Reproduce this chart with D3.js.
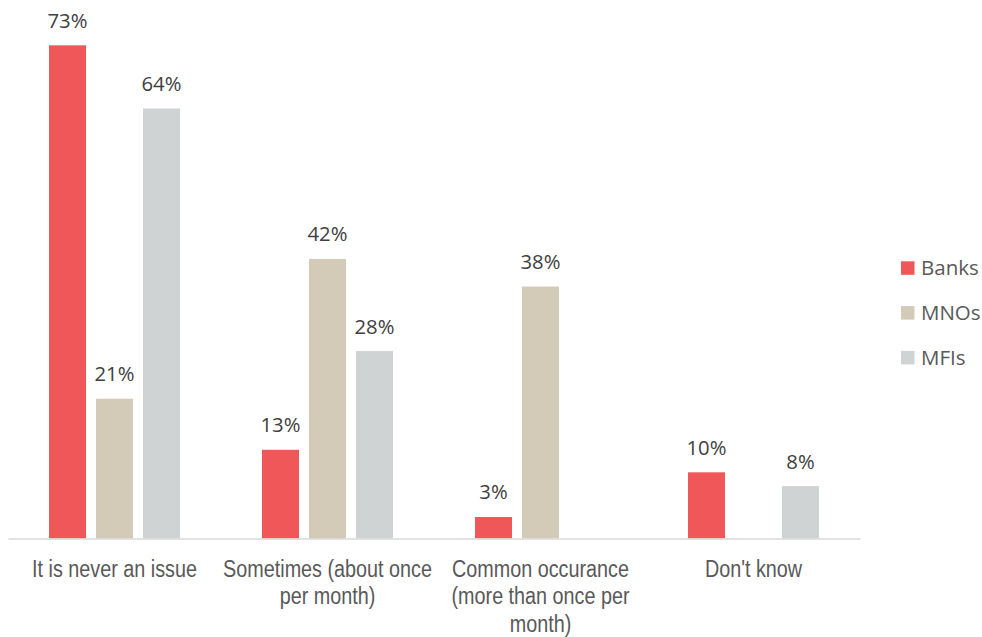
<!DOCTYPE html>
<html>
<head>
<meta charset="utf-8">
<script src="https://cdn.jsdelivr.net/npm/d3@7"></script>
<style>
  body { margin: 0; background: #fff; }
  .xlab { font-family: "Liberation Sans", Arial, sans-serif; font-size: 23px; fill: #595959; }
  .val { font-family: "Open Sans", "Noto Sans", sans-serif; font-size: 20.3px; fill: #404040; }
  .leg { font-family: "Open Sans", "Noto Sans", sans-serif; font-size: 20.5px; fill: #595959; }
</style>
</head>
<body>
<div id="chart"></div>
<script>
// Data (bar heights; labels show rounded percentages)
const categories = [
  ["It is never an issue"],
  ["Sometimes (about once", "per month)"],
  ["Common occurance", "(more than once per", "month)"],
  ["Don't know"]
];
const series = ["Banks", "MNOs", "MFIs"];
const banks = [73.4, 13.2, 3.2, 9.85];
const mnos = [20.8, 41.6, 37.5, null];
const mfis = [64, 27.9, null, 7.8];
const colors = ["#EF5759", "#D3CBB8", "#D0D3D4"];

const width = 982, height = 637;
const margin = {top: 45.3, left: 8, right: 122, bottom: 98.5};

const svg = d3.select("#chart").append("svg")
  .attr("width", width)
  .attr("height", height);

const catKeys = categories.map(d => d.join(" "));
const values = [banks, mnos, mfis];

// Scales
const x = d3.scaleBand().domain(catKeys).range([margin.left, width - margin.right]);
const x1 = d3.scaleBand().domain(series).range([41, x.bandwidth() - 41]).paddingInner(0.213);
const y = d3.scaleLinear().domain([0, 73.4]).range([height - margin.bottom, margin.top]);
const color = d3.scaleOrdinal().domain(series).range(colors);

// Flatten to bars
const bars = [];
catKeys.forEach((c, i) => {
  series.forEach((s, j) => {
    if (values[j][i] != null) bars.push({cat: c, series: s, value: values[j][i]});
  });
});

// Bars
svg.selectAll(".bar")
  .data(bars)
  .enter().append("rect")
  .attr("class", "bar")
  .attr("x", d => x(d.cat) + x1(d.series))
  .attr("width", x1.bandwidth())
  .attr("y", d => y(d.value))
  .attr("height", d => y(0) - y(d.value))
  .attr("fill", d => color(d.series));

// Value labels
svg.selectAll(".val")
  .data(bars)
  .enter().append("text")
  .attr("class", "val")
  .attr("x", d => x(d.cat) + x1(d.series) + x1.bandwidth() / 2)
  .attr("y", d => y(d.value) - 17.5)
  .attr("text-anchor", "middle")
  .text(d => Math.round(d.value) + "%");

// X axis
const xAxis = svg.append("g")
  .attr("transform", "translate(0," + y(0) + ")")
  .call(d3.axisBottom(x).tickSize(0).tickSizeOuter(0));
xAxis.select(".domain").attr("stroke", "#D9D9D9").attr("stroke-width", 1.5);
xAxis.selectAll(".tick text").remove();
xAxis.selectAll(".tick").each(function(d, i) {
  // narrow look, like Arial Narrow
  const t = d3.select(this).append("text")
    .attr("class", "xlab")
    .attr("text-anchor", "middle")
    .attr("transform", "scale(0.86,1)")
    .attr("y", 38.5);
  categories[i].forEach((line, k) => {
    t.append("tspan").attr("x", 0).attr("dy", k === 0 ? 0 : 27.3).text(line);
  });
});

// Legend
const legend = svg.append("g")
  .selectAll("g")
  .data(series)
  .enter().append("g")
  .attr("transform", (d, i) => "translate(901," + (268 + i * 44.8) + ")");

legend.append("rect")
  .attr("x", 0)
  .attr("y", -6.7)
  .attr("width", 13.5)
  .attr("height", 13.5)
  .attr("fill", d => color(d));

legend.append("text")
  .attr("class", "leg")
  .attr("x", 20)
  .attr("dy", "0.35em")
  .text(d => d);
</script>
</body>
</html>
